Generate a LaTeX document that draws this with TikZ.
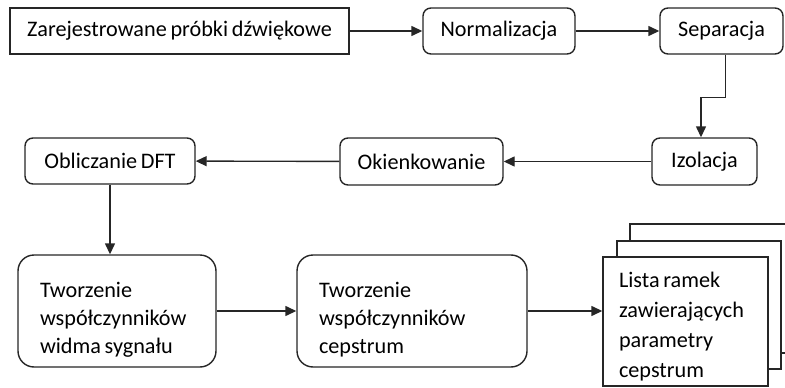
\documentclass[tikz,border=0pt]{standalone}
\usepackage{fontspec}
\setmainfont{Carlito}[WordSpace=0.75]
\usetikzlibrary{arrows.meta,calc}
% strut that lowers the text block inside the tall boxes
\newcommand{\lowstrut}[1]{\rule{0pt}{#1}}
\begin{document}
\begin{tikzpicture}[x=1pt,y=-1pt,
  every node/.style={font=\fontsize{22.2}{28}\selectfont, text=black},
  box/.style={draw=black!85, line width=1.4pt, fill=white, inner sep=0pt},
  rbox/.style={box, rounded corners=8pt, minimum height=46pt},
  bigbox/.style={box, rounded corners=16pt, align=flush left, inner xsep=22pt,
    text width=#1, minimum height=112pt},
  arr/.style={draw=black!85, line width=1.4pt, -{Triangle[length=11pt,width=10pt]}}
]
\useasboundingbox (0,0) rectangle (785,388);
\clip (0,0) rectangle (785,388);

% top row
\node[box, minimum width=339pt, minimum height=46pt] (src) at (179.5,31) {Zarejestrowane próbki dźwiękowe};
\node[rbox, minimum width=152pt] (norm) at (499,31) {Normalizacja};
\node[rbox, minimum width=123pt] (sep) at (721.5,31) {Separacja};

% middle row
\node[rbox, minimum width=105pt, minimum height=47pt] (izo) at (704.5,161.5) {Izolacja};
\node[rbox, minimum width=163pt, minimum height=47pt] (okn) at (421.5,161.5) {Okienkowanie};
\node[rbox, minimum width=170pt] (dft) at (110,161) {Obliczanie DFT};

% bottom row
\node[bigbox=154pt] (widma) at (117,311) {\lowstrut{32pt}Tworzenie\\współczynników\\widma sygnału};
\node[bigbox=186pt] (cep) at (412,311) {\lowstrut{32pt}Tworzenie\\współczynników\\cepstrum};

% stacked document
\node[box, minimum width=167pt, minimum height=129pt] (docback) at (713.5,288.5) {};
\node[box, minimum width=164pt, minimum height=128pt] (docmid) at (699,305) {};
\node[box, minimum width=165pt, minimum height=129pt, align=flush left, inner xsep=16pt,
  text width=133pt, font=\fontsize{22.2}{30}\selectfont] (doc) at (685.5,321.5)
  {\lowstrut{25pt}Lista ramek\\zawierających\\parametry\\cepstrum};

% connectors
\draw[arr] (src) -- (norm);
\draw[arr] (norm) -- (sep);
\draw[arr] ([xshift=4pt]sep.south) -- ++(0,43) -| ([xshift=-3.5pt]izo.north);
\draw[arr] (izo) -- (okn);
\draw[arr] (okn) -- (dft);
\draw[arr] (dft.south) -- (dft.south |- widma.north);
\draw[arr] (widma.east) -- (widma.east -| cep.west);
\draw[arr] (cep.east) -- (cep.east -| doc.west);
\end{tikzpicture}
\end{document}
